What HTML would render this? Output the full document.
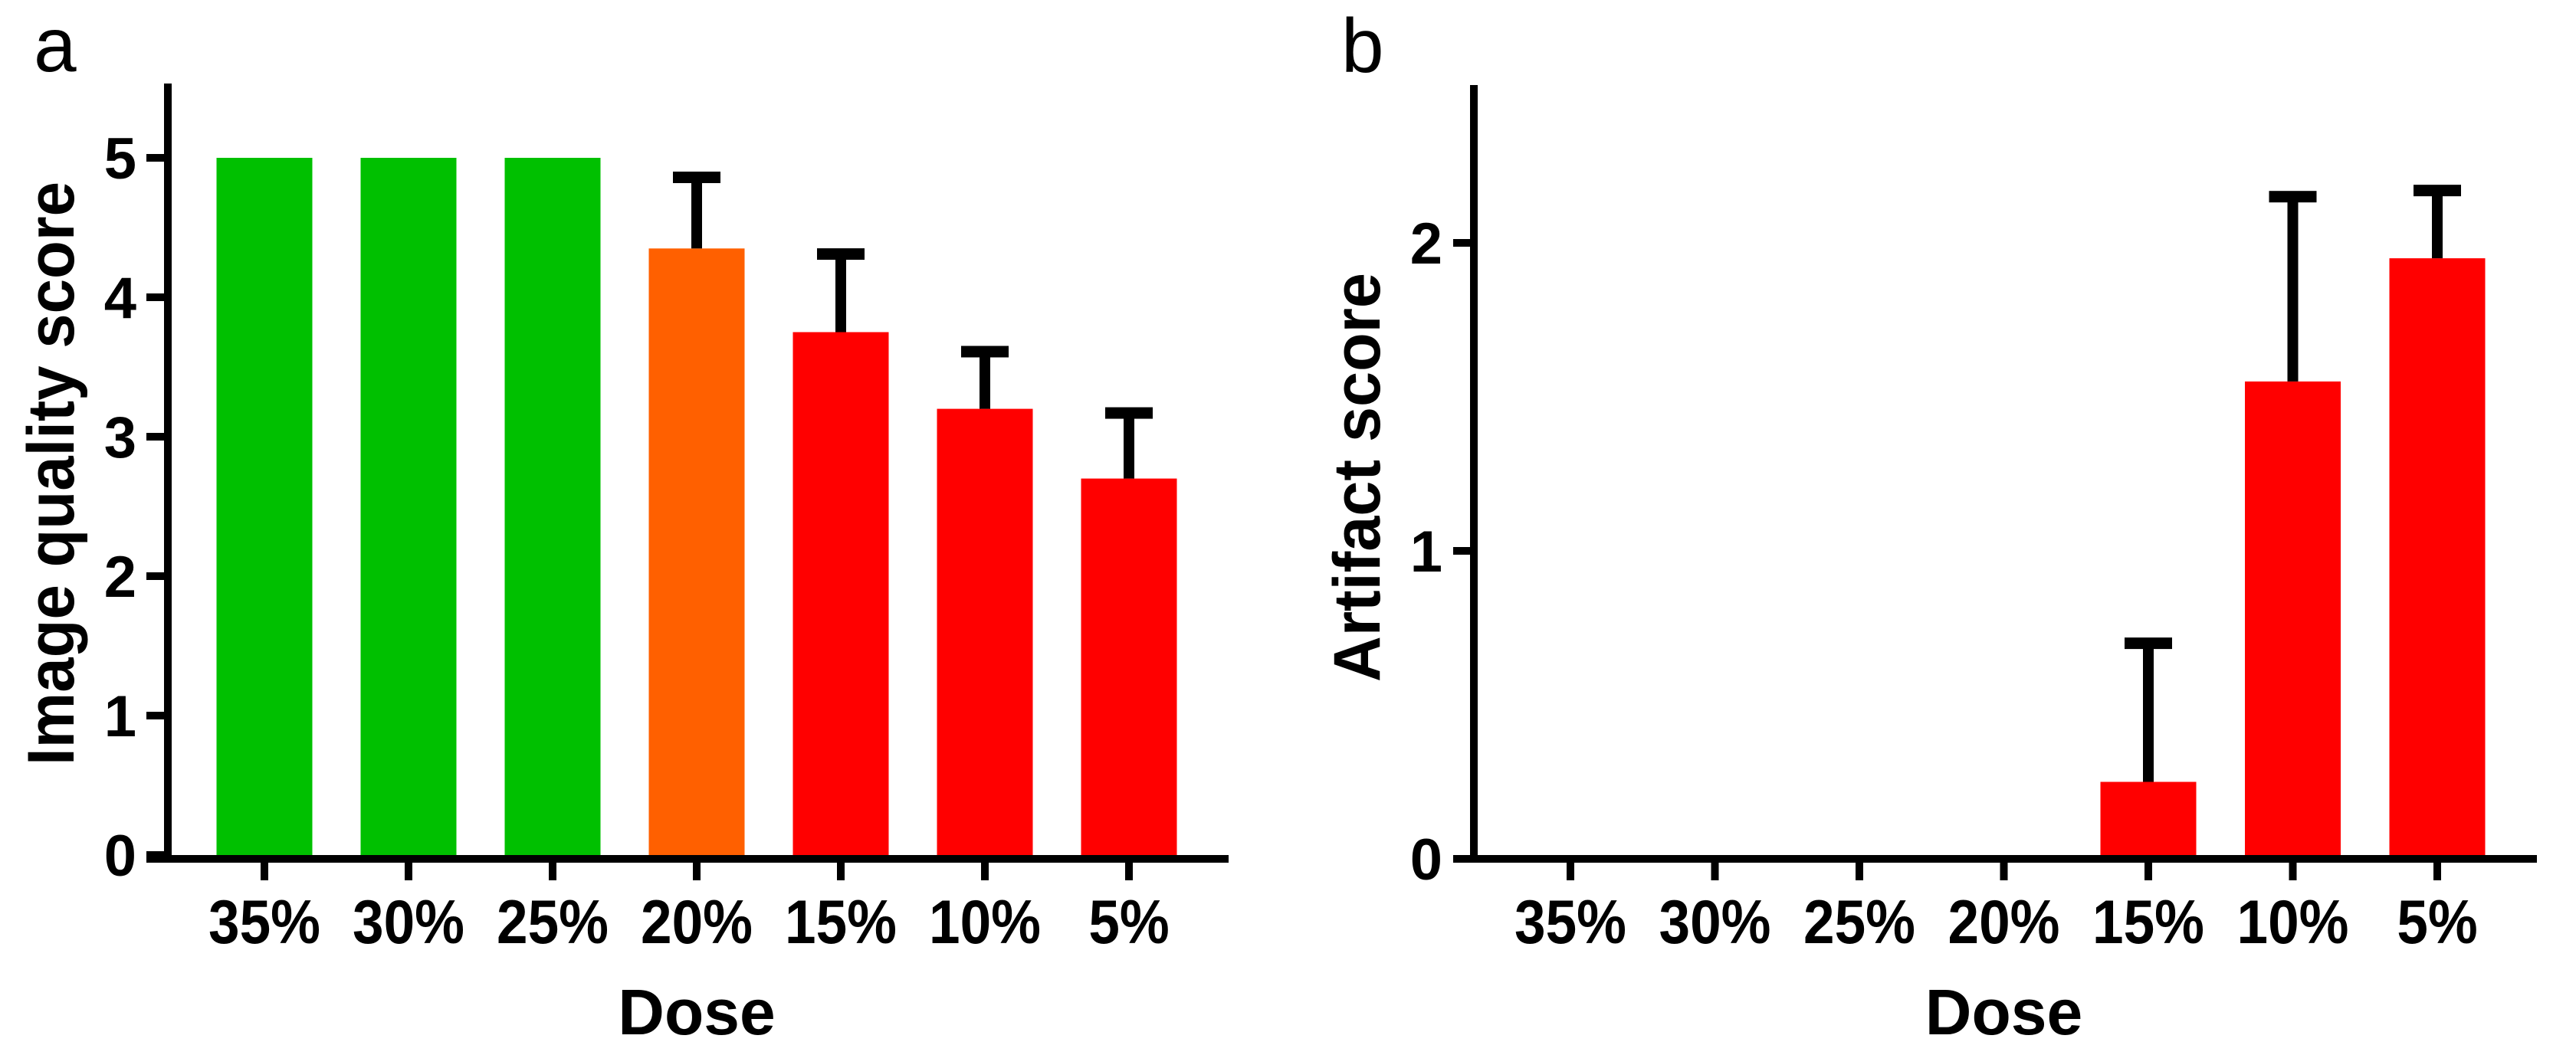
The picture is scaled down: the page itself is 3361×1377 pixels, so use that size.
<!DOCTYPE html>
<html><head><meta charset="utf-8"><style>html,body{margin:0;padding:0;background:#fff}svg{display:block}</style></head>
<body>
<svg id="fig" width="3361" height="1377" viewBox="0 0 3361 1377" xmlns="http://www.w3.org/2000/svg" font-family="'Liberation Sans', Arial, sans-serif">
<text x="44" y="93" font-size="100">a</text>
<text x="1750" y="94" font-size="100">b</text>
<g id="pa"></g>
<g id="pb"></g>
</svg>
<script>
const categories = ["35%","30%","25%","20%","15%","10%","5%"];
const qualityValues = [5, 5, 5, 4.35, 3.75, 3.2, 2.7];
const qualityErrTop = [null, null, null, 4.86, 4.31, 3.61, 3.17];
const qualityColors = ["#00c000","#00c000","#00c000","#ff6000","#ff0000","#ff0000","#ff0000"];
const qualityTicks = [0,1,2,3,4,5];
const artifactValues = [0, 0, 0, 0, 0.25, 1.55, 1.95];
const artifactErrTop = [null, null, null, null, 0.70, 2.15, 2.17];
const artifactColors = ["#ff0000","#ff0000","#ff0000","#ff0000","#ff0000","#ff0000","#ff0000"];
const artifactTicks = [0,1,2];

const NS = "http://www.w3.org/2000/svg";
function mk(tag, attrs, parent){const e=document.createElementNS(NS,tag);for(const k in attrs)e.setAttribute(k,attrs[k]);parent.appendChild(e);return e;}

function panel(g, cfg){
  const yScale = v => cfg.y0 - v*cfg.unit;
  const xScale = i => cfg.x0 + i*cfg.step;
  // bars
  cfg.values.forEach((v,i)=>{
    if(v>0){
      const r=mk('rect',{x:xScale(i)-62.5,y:yScale(v),width:125,height:cfg.base-yScale(v),fill:cfg.colors[i]},g);
      
      
    }
    const e=cfg.err[i];
    if(e!==null){
      const eg=mk('g',{},g);
      
      
      mk('rect',{x:xScale(i)-7,y:yScale(e),width:14,height:yScale(v)-yScale(e),fill:'#000'},eg);
      mk('rect',{x:xScale(i)-31,y:yScale(e)-7.5,width:62,height:15,fill:'#000'},eg);
    }
  });
  // axes
  const ya=mk('rect',{x:cfg.ax,y:cfg.top,width:10,height:cfg.base+10-cfg.top,fill:'#000'},g);
  
  
  const xa=mk('rect',{x:cfg.xl,y:cfg.base,width:cfg.xr-cfg.xl,height:10,fill:'#000'},g);
  
  
  cfg.ticks.forEach(t=>{
    const y=yScale(t);
    mk('rect',{x:cfg.xl,y:y-5,width:cfg.ax-cfg.xl,height:10,fill:'#000'},g);
    const tx=mk('text',{x:cfg.ax-36,y:y+27,'font-size':76,'font-weight':'bold','text-anchor':'end'},g);
    tx.textContent=t;
    
    
  });
  cfg.cats.forEach((c,i)=>{
    const x=xScale(i);
    mk('rect',{x:x-5,y:cfg.base+10,width:10,height:23,fill:'#000'},g);
    const tg=mk('g',{transform:`translate(${x},1231) scale(0.9,1)`},g);
    const tx=mk('text',{x:0,y:0,'font-size':81,'font-weight':'bold','text-anchor':'middle'},tg);
    tx.textContent=c;
    
    
  });
  const xt=mk('text',{x:xScale(3),y:1350,'font-size':84,'font-weight':'bold','text-anchor':'middle'},g);
  xt.textContent='Dose';
  
  
  const yt=mk('text',{x:0,y:0,'font-size':86,'font-weight':'bold','text-anchor':'middle',transform:`translate(${cfg.ytx},${cfg.yty}) rotate(-90)`,textLength:cfg.ytl,lengthAdjust:'spacingAndGlyphs'},g);
  yt.textContent=cfg.ytitle;
  
  
}

panel(document.getElementById('pa'),{key:'quality',cats:categories,values:qualityValues,err:qualityErrTop,colors:qualityColors,ticks:qualityTicks,
  y0:1116,unit:182,base:1116,x0:345,step:188,ax:214,xl:191,xr:1603,top:109,ytx:96,yty:618,ytl:762,ytitle:'Image quality score'});
panel(document.getElementById('pb'),{key:'artifact',cats:categories,values:artifactValues,err:artifactErrTop,colors:artifactColors,ticks:artifactTicks,
  y0:1121,unit:402,base:1116,x0:2049,step:188.5,ax:1918,xl:1896,xr:3310,top:111,ytx:1800,yty:623,ytl:534,ytitle:'Artifact score'});
</script>
</body></html>
